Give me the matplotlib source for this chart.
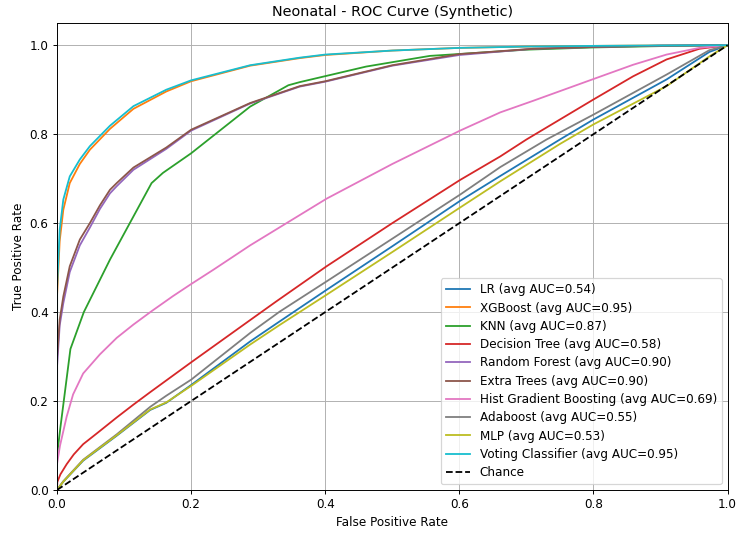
import numpy as np
import matplotlib
matplotlib.use('Agg')
import matplotlib.pyplot as plt

# ROC points (FPR, TPR)
lr_fpr = [0, 0.009, 0.039, 0.089, 0.139, 0.163, 0.2, 0.288, 0.332, 0.402, 0.5, 0.601, 0.661, 0.75, 0.8, 0.909, 0.973, 1.0]
lr_tpr = [0, 0.018, 0.066, 0.122, 0.180, 0.196, 0.236, 0.334, 0.379, 0.450, 0.548, 0.650, 0.706, 0.788, 0.833, 0.923, 0.985, 1.0]

ada_fpr = [0, 0.009, 0.039, 0.089, 0.139, 0.163, 0.2, 0.288, 0.332, 0.402, 0.5, 0.601, 0.661, 0.73, 0.8, 0.909, 0.973, 1.0]
ada_tpr = [0, 0.019, 0.068, 0.125, 0.187, 0.212, 0.248, 0.353, 0.401, 0.469, 0.565, 0.664, 0.726, 0.788, 0.844, 0.934, 0.989, 1.0]

mlp_fpr = [0, 0.009, 0.039, 0.089, 0.139, 0.163, 0.2, 0.288, 0.332, 0.402, 0.5, 0.601, 0.661, 0.75, 0.8, 0.909, 0.973, 1.0]
mlp_tpr = [0, 0.018, 0.067, 0.123, 0.181, 0.197, 0.234, 0.327, 0.371, 0.439, 0.535, 0.635, 0.694, 0.778, 0.822, 0.908, 0.975, 1.0]

dt_fpr = [0, 0.0005, 0.005, 0.0144, 0.025, 0.039, 0.06, 0.089, 0.114, 0.139, 0.2, 0.288, 0.327, 0.402, 0.5, 0.601, 0.661, 0.7, 0.8, 0.859, 0.909, 0.958, 1.0]
dt_tpr = [0, 0.018, 0.035, 0.058, 0.080, 0.103, 0.128, 0.163, 0.192, 0.220, 0.287, 0.382, 0.424, 0.503, 0.600, 0.697, 0.750, 0.788, 0.878, 0.930, 0.968, 0.992, 1.0]

hgb_fpr = [0, 0.0002, 0.0045, 0.0144, 0.024, 0.039, 0.064, 0.089, 0.114, 0.141, 0.173, 0.2, 0.233, 0.288, 0.402, 0.5, 0.601, 0.661, 0.71, 0.8, 0.859, 0.909, 0.958, 1.0]
hgb_tpr = [0, 0.06, 0.10, 0.165, 0.215, 0.262, 0.305, 0.342, 0.372, 0.402, 0.436, 0.463, 0.495, 0.550, 0.655, 0.733, 0.808, 0.849, 0.875, 0.924, 0.956, 0.979, 0.994, 1.0]

knn_fpr = [0, 0.0002, 0.005, 0.02, 0.04, 0.079, 0.141, 0.158, 0.2, 0.288, 0.345, 0.362, 0.461, 0.556, 0.7, 0.8, 0.9, 1.0]
knn_tpr = [0, 0.08, 0.14, 0.317, 0.40, 0.518, 0.69, 0.713, 0.757, 0.862, 0.91, 0.917, 0.952, 0.976, 0.99, 0.995, 0.998, 1.0]

et_fpr = [0, 0.0002, 0.004, 0.0094, 0.019, 0.034, 0.049, 0.064, 0.079, 0.089, 0.114, 0.163, 0.2, 0.288, 0.362, 0.4, 0.5, 0.6, 0.71, 0.8, 0.9, 1.0]
et_tpr = [0, 0.30, 0.383, 0.435, 0.503, 0.563, 0.60, 0.64, 0.675, 0.69, 0.725, 0.77, 0.81, 0.87, 0.908, 0.919, 0.955, 0.98, 0.992, 0.996, 0.999, 1.0]
rf_fpr = et_fpr
rf_tpr = [0, 0.28, 0.37, 0.42, 0.49, 0.55, 0.59, 0.632, 0.667, 0.683, 0.72, 0.767, 0.808, 0.869, 0.907, 0.918, 0.954, 0.978, 0.992, 0.996, 0.999, 1.0]

vc_fpr = [0, 0.0002, 0.004, 0.0094, 0.019, 0.034, 0.049, 0.079, 0.114, 0.163, 0.2, 0.288, 0.362, 0.4, 0.5, 0.6, 0.7, 0.8, 0.9, 1.0]
vc_tpr = [0, 0.458, 0.585, 0.653, 0.705, 0.743, 0.773, 0.819, 0.863, 0.90, 0.921, 0.955, 0.972, 0.979, 0.988, 0.994, 0.997, 0.9985, 0.9995, 1.0]
xgb_fpr = vc_fpr
xgb_tpr = [0, 0.44, 0.56, 0.63, 0.69, 0.733, 0.765, 0.812, 0.857, 0.896, 0.919, 0.954, 0.971, 0.978, 0.988, 0.994, 0.997, 0.9985, 0.9995, 1.0]

models = [
    ('LR', 0.54, lr_fpr, lr_tpr),
    ('XGBoost', 0.95, xgb_fpr, xgb_tpr),
    ('KNN', 0.87, knn_fpr, knn_tpr),
    ('Decision Tree', 0.58, dt_fpr, dt_tpr),
    ('Random Forest', 0.90, rf_fpr, rf_tpr),
    ('Extra Trees', 0.90, et_fpr, et_tpr),
    ('Hist Gradient Boosting', 0.69, hgb_fpr, hgb_tpr),
    ('Adaboost', 0.55, ada_fpr, ada_tpr),
    ('MLP', 0.53, mlp_fpr, mlp_tpr),
    ('Voting Classifier', 0.95, vc_fpr, vc_tpr),
]

# the reference looks like a downscaled render, so use a bigger figure at lower dpi
fig = plt.figure(figsize=(8.5, 6.155), dpi=86.6)
ax = fig.add_axes([57 / 736, 1 - 490 / 533, 670.5 / 736, 467 / 533])

for name, auc, fpr, tpr in models:
    ax.plot(fpr, tpr, label=f'{name} (avg AUC={auc:.2f})')
ax.plot([0, 1], [0, 1], 'k--', label='Chance')

ax.set_xlim(0, 1)
ax.set_ylim(0, 1.05)
ax.set_xlabel('False Positive Rate')
ax.set_ylabel('True Positive Rate')
ax.set_title('Neonatal - ROC Curve (Synthetic)')
ax.grid(True)
ax.legend(loc='lower right', labelspacing=0.44)

fig.savefig('out.png', dpi=86.6)
